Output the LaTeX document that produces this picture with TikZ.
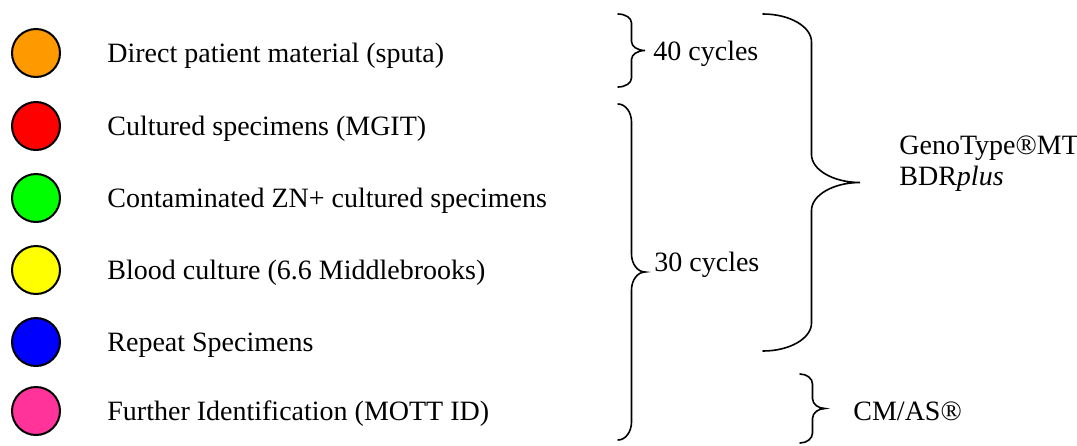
\documentclass[tikz,border=0pt]{standalone}
\usepackage{fontspec}
\setmainfont{Liberation Serif}
\usepackage{xcolor}
\usetikzlibrary{
  calc,
  positioning
}
\definecolor{sputa}{HTML}{FF9900}
\definecolor{mgit}{HTML}{FF0000}
\definecolor{contam}{HTML}{00FF00}
\definecolor{blood}{HTML}{FFFF00}
\definecolor{repeatc}{HTML}{0000FF}
\definecolor{mott}{HTML}{FF3399}

% curly brace from top coordinate #1 to bottom coordinate #2,
% half width #3, curl height #4
\newcommand{\cbrace}[4]{%
  \coordinate (#1-m) at ($(#1)!0.5!(#2)$);
  \draw[brc] (#1) .. controls +(0.55*#3,0) and +(0,-0.55*#4) .. ($(#1)+(#3,#4)$)
    -- ($(#1-m)+(#3,-#4)$)
    .. controls +(0,0.55*#4) and +(-0.55*#3,0) .. ($(#1-m)+(2*#3,0)$)
    .. controls +(-0.55*#3,0) and +(0,-0.55*#4) .. ($(#1-m)+(#3,#4)$)
    -- ($(#2)+(#3,-#4)$)
    .. controls +(0,0.55*#4) and +(0.55*#3,0) .. (#2);
}

\begin{document}
\begin{tikzpicture}[
  x=0.5pt, y=-0.5pt,
  font=\fontsize{14}{15.5}\selectfont,
  dot/.style={circle, draw, line width=1pt, fill=#1, inner sep=0pt,
              minimum size=24pt},
  lbl/.style={anchor=base west, inner sep=0pt, align=left},
  brc/.style={draw, line width=0.8pt, line cap=round},
]
  \useasboundingbox (0,0) rectangle (1077,445);

  % sample types
  \foreach \n/\c/\y/\t in {
      a/sputa/53/{Direct patient material (sputa)},
      b/mgit/126/{Cultured specimens (MGIT)},
      c/contam/198/{Contaminated ZN+ cultured specimens},
      d/blood/270/{Blood culture (6.6 Middlebrooks)},
      e/repeatc/342/{Repeat Specimens},
      f/mott/411/{Further Identification (MOTT ID)}} {
    \node[dot=\c] (dot-\n) at (36,\y) {};
    \node[lbl] (txt-\n) at ($(107,\y)+(0,9.5)$) {\t};
  }

  % cycles
  \coordinate (c40t) at (618,14);
  \coordinate (c40b) at (618,87);
  \cbrace{c40t}{c40b}{13.5}{9}
  \node[lbl] (c40) at (653,60) {40 cycles};

  \coordinate (c30t) at (618,104);
  \coordinate (c30b) at (618,440);
  \cbrace{c30t}{c30b}{13.5}{18}
  \node[lbl] (c30) at (654,271) {30 cycles};

  % assays
  \coordinate (gtt) at (763,14);
  \coordinate (gtb) at (763,351);
  \cbrace{gtt}{gtb}{48.5}{28}
  \node[lbl] (gt) at (899,185) {GenoType®MT\\BDR\textit{plus}};

  \coordinate (cmt) at (800,374);
  \coordinate (cmb) at (800,443);
  \cbrace{cmt}{cmb}{12.5}{10}
  \node[lbl] (cm) at (853,420) {CM/AS®};
\end{tikzpicture}
\end{document}
